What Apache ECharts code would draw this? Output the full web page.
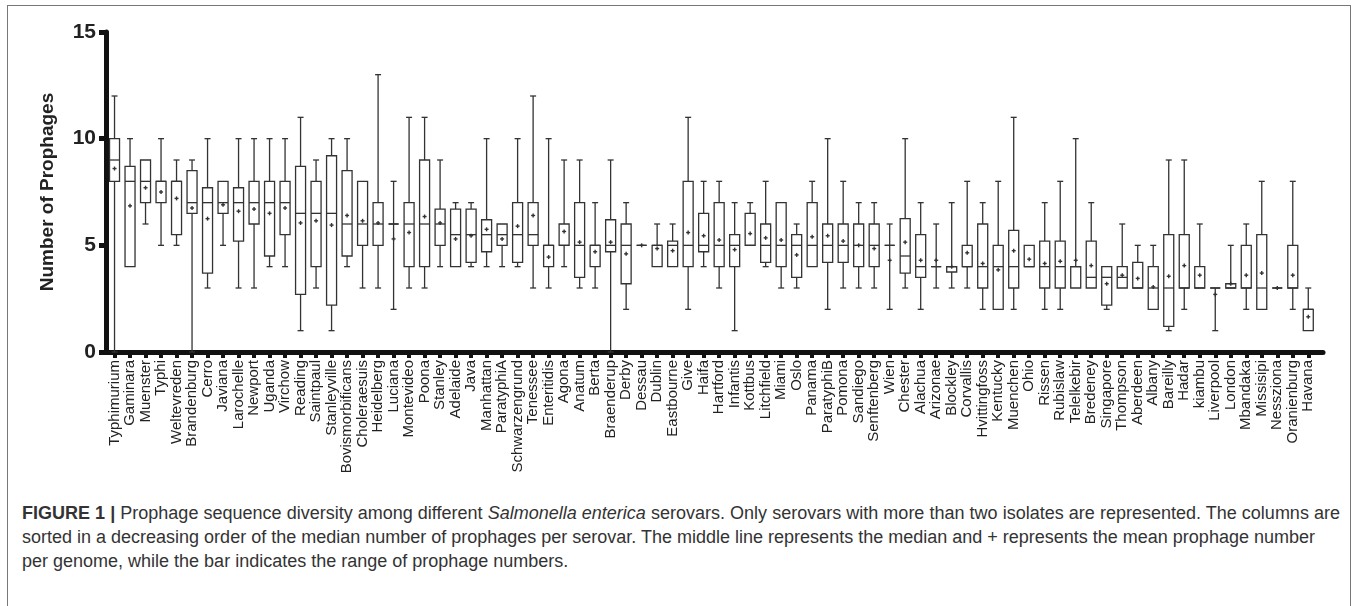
<!DOCTYPE html>
<html>
<head>
<meta charset="utf-8">
<script src="https://cdn.jsdelivr.net/npm/echarts@6/dist/echarts.min.js"></script>
<style>
  html, body { margin: 0; padding: 0; background: #fff; }
  body { width: 1357px; height: 606px; position: relative; overflow: hidden; font-family: "Liberation Sans", Arial, sans-serif; }
  #frame { position: absolute; left: 7px; top: 5px; width: 1342px; height: 640px; border: 1px solid #777; }
  #chart { position: absolute; left: 0; top: 0; width: 1357px; height: 500px; }
  #caption { position: absolute; left: 22px; top: 501px; font-size: 18px; line-height: 24px; color: #333; white-space: nowrap; }
  #caption .just { text-align: justify; text-align-last: justify; }
</style>
</head>
<body>
<div id="frame"></div>
<div id="chart"></div>
<div id="caption">
  <div class="just" style="width:1318px"><b>FIGURE 1 |</b> Prophage sequence diversity among different <i>Salmonella enterica</i> serovars. Only serovars with more than two isolates are represented. The columns are</div>
  <div class="just" style="width:1285px">sorted in a decreasing order of the median number of prophages per serovar. The middle line represents the median and + represents the mean prophage number</div>
  <div>per genome, while the bar indicates the range of prophage numbers.</div>
</div>
<script>
var serovars = ['Typhimurium','Gaminara','Muenster','Typhi','Weltevreden','Brandenburg','Cerro','Javiana','Larochelle','Newport',
  'Uganda','Virchow','Reading','Saintpaul','Stanleyville','Bovismorbificans','Choleraesuis','Heidelberg','Luciana','Montevideo',
  'Poona','Stanley','Adelaide','Java','Manhattan','ParatyphiA','Schwarzengrund','Tenessee','Enteritidis','Agona',
  'Anatum','Berta','Braenderup','Derby','Dessau','Dublin','Eastbourne','Give','Haifa','Hartford',
  'Infantis','Kottbus','Litchfield','Miami','Oslo','Panama','ParatyphiB','Pomona','Sandiego','Senftenberg',
  'Wien','Chester','Alachua','Arizonae','Blockley','Corvallis','Hvittingfoss','Kentucky','Muenchen','Ohio',
  'Rissen','Rubislaw','Telelkebir','Bredeney','Singapore','Thompson','Aberdeen','Albany','Bareilly','Hadar',
  'kiambu','Liverpool','London','Mbandaka','Missisipi','Nessziona','Oranienburg','Havana'];

// whisker low, Q1, median, Q3, whisker high, mean
var lowVals = [0,4,6,5,5,0,3,5,3,3, 4,4,1,3,1,4,3,3,2,3, 3,4,4,4,4,4,4,3,3,4, 3,3,0,2,5,4,4,2,4,3,
  1,5,4,3,3,4,2,3,3,3, 2,3,2,3,3,3,2,2,2,4, 2,2,3,3,2,3,3,2,1,2, 3,1,3,2,2,3,2,1];
var q1Vals = [8,4,7,7,5.5,6.5,3.7,6.5,5.2,6, 4.5,5.5,2.7,4,2.2,4.5,5,5,6,4, 4,5,4,4.2,4.7,5,4.2,5,4,5, 3.5,4,4.7,3.2,5,4,4,4,4.7,4,
  4,5,4.2,4,3.5,4,4.2,4.2,4,4, 5,3.7,3.5,4,3.75,4,3,2,3,4, 3,3,3,3,2.2,3,3,2,1.2,3, 3,3,3,3,2,3,3,1];
var medianVals = [9,8,8,8,8,7,7,7,7,7, 7,7,6.5,6.5,6.5,6,6,6,6,6, 6,6,5.5,5.5,5.5,5.5,5.5,5.5,5,5, 5,5,5,5,5,5,5,5,5,5,
  5,5,5,5,5,5,5,5,5,5, 5,4.5,4,4,4,4,4,4,4,4, 4,4,4,3.5,3.5,3.5,3,3,3,3, 3,3,3,3,3,3,3,2];
var q3Vals = [10,8.7,9,8,8,8.5,7.7,8,7.7,8, 8,8,8.7,8,9.2,8.5,8,7,6,7, 9,6.7,6.7,6.7,6.2,6,7,7,5,6, 7,5,6.2,6,5,5,5.2,8,6.5,7,
  5.5,6.5,6,7,5.5,7,6,6,6,6, 5,6.25,5.5,4,4,5,6,5,5.7,5, 5.2,5.2,4,5.2,4,4,4.2,4,5.5,5.5, 4,3,3.2,5,5.5,3,5,2];
var highVals = [12,10,9,10,9,9,10,8,10,10, 10,10,11,9,10,10,8,13,8,11, 11,9,7,7,10,6,10,12,10,9, 9,7,9,7,5,6,6,11,8,8,
  7,7,8,7,6,8,10,8,7,7, 6,10,7,6,7,8,7,8,11,5, 7,8,10,7,4,6,5,5,9,9, 6,3,5,6,8,3,8,3];
var meanVals = [8.6,6.85,7.7,7.5,7.2,6.75,6.25,6.9,6.6,6.7, 6.5,6.75,6.05,6.15,5.95,6.4,6.15,6.05,5.3,5.6, 6.35,6.05,5.3,5.45,5.75,5.3,5.9,6.4,4.45,5.65,
  5.15,4.7,5.15,4.6,5,4.85,4.75,5.6,5.45,5.25, 4.8,5.55,5.35,5.25,4.55,5.4,5.45,5.2,5,4.85,
  4.3,5.15,4.3,4.3,4,4.65,4.15,3.85,4.75,4.35, 4.15,4.25,4.3,4.05,3.2,3.6,3.45,3.05,3.55,4.05, 3.6,2.7,3.2,3.6,3.7,3,3.6,1.65];

var yTicks = [0, 5, 10, 15];

var boxData = serovars.map(function (name, i) {
  return [i, lowVals[i], q1Vals[i], medianVals[i], q3Vals[i], highVals[i], meanVals[i]];
});
var tickIdx = serovars.map(function (n, i) { return i; });

var INK = '#333';

function seg(x1, y1, x2, y2, w) {
  return { type: 'line', shape: { x1: x1, y1: y1, x2: x2, y2: y2 }, style: { stroke: INK, lineWidth: w || 1.3 } };
}

function renderBox(params, api) {
  var i = api.value(0);
  var lo = api.coord([i, api.value(1)]);
  var q1 = api.coord([i, api.value(2)]);
  var md = api.coord([i, api.value(3)]);
  var q3 = api.coord([i, api.value(4)]);
  var hi = api.coord([i, api.value(5)]);
  var mn = api.coord([i, api.value(6)]);
  var cx = lo[0];
  var hw = 5, cw = 3;
  var kids = [];
  if (hi[1] < q3[1] - 0.5) {
    kids.push(seg(cx, q3[1], cx, hi[1]));
    kids.push(seg(cx - cw, hi[1], cx + cw, hi[1]));
  }
  if (lo[1] > q1[1] + 0.5) {
    kids.push(seg(cx, q1[1], cx, lo[1]));
    kids.push(seg(cx - cw, lo[1], cx + cw, lo[1]));
  }
  kids.push({
    type: 'rect',
    shape: { x: cx - hw, y: q3[1], width: hw * 2, height: q1[1] - q3[1] },
    style: { stroke: INK, lineWidth: 1.3, fill: 'rgba(255,255,255,0)' }
  });
  kids.push(seg(cx - hw, md[1], cx + hw, md[1]));
  kids.push(seg(cx - 2, mn[1], cx + 2, mn[1], 1.4));
  kids.push(seg(cx, mn[1] - 2, cx, mn[1] + 2, 1.4));
  return { type: 'group', children: kids };
}

var chart = echarts.init(document.getElementById('chart'), null, { renderer: 'canvas' });
chart.setOption({
  animation: false,
  backgroundColor: 'transparent',
  textStyle: { fontFamily: 'Liberation Sans, Arial, sans-serif' },
  grid: { left: 106, right: 34, top: 32, bottom: 148 },
  xAxis: {
    type: 'value',
    min: -0.55,
    max: 77.95,
    axisLine: { onZero: false, lineStyle: { color: '#111', width: 5, cap: 'round' } },
    axisTick: { customValues: tickIdx, length: 6, lineStyle: { color: '#111', width: 4 } },
    axisLabel: {
      customValues: tickIdx,
      rotate: 90,
      margin: 8,
      fontSize: 15,
      color: '#222',
      formatter: function (v) { return serovars[Math.round(v)]; }
    },
    splitLine: { show: false }
  },
  yAxis: {
    type: 'value',
    min: 0,
    max: 15,
    interval: 5,
    name: 'Number of Prophages',
    nameLocation: 'middle',
    nameGap: 49,
    nameTextStyle: { fontSize: 19, fontWeight: 'bold', color: '#222' },
    axisLine: { show: true, onZero: false, lineStyle: { color: '#111', width: 5 } },
    axisTick: { show: true, length: 7, lineStyle: { color: '#111', width: 5 } },
    axisLabel: { fontSize: 21, fontWeight: 'bold', color: '#222', margin: 10,
      customValues: yTicks },
    splitLine: { show: false }
  },
  series: [{
    type: 'custom',
    renderItem: renderBox,
    encode: { x: 0, y: [1, 2, 3, 4, 5, 6] },
    data: boxData,
    clip: false,
    z: 3
  }]
});
</script>
</body>
</html>
